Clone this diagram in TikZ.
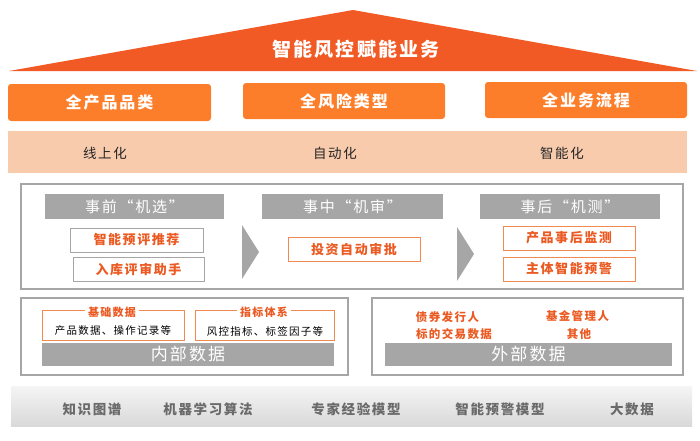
\documentclass[tikz,border=0pt]{standalone}
\usepackage{fontspec}
\setmainfont[LetterSpace=12]{Noto Sans CJK SC}
\definecolor{triorange}{HTML}{F15A24}
\definecolor{boxorange}{HTML}{FD7E2A}
\definecolor{peach}{HTML}{F8CBAD}
\definecolor{midgray}{HTML}{A6A6A6}
\definecolor{redtext}{HTML}{EB5A22}
\definecolor{lineorange}{HTML}{F08A50}
\definecolor{btmtext}{HTML}{6A6A6A}
\tikzset{
  topbox/.style={fill=boxorange, rounded corners=3pt, text=white, font=\fontsize{16}{18}\selectfont\bfseries, inner sep=0pt},
  bandtext/.style={text=black!85, font=\fontsize{13.5}{16}\selectfont},
  grayhead/.style={fill=midgray, text=white, font=\fontsize{15}{18}\selectfont, minimum height=25pt, inner sep=0pt},
  itembox/.style={draw=lineorange, line width=0.9pt, fill=white, text=redtext, font=\fontsize{13}{15}\selectfont\bfseries, minimum height=24pt, minimum width=132pt, inner sep=0pt},
  itemgray/.style={itembox, draw=midgray},
  outerbox/.style={draw=midgray, line width=1.2pt},
  chev/.style={fill=midgray},
  subtitle/.style={fill=white, text=redtext, font=\fontsize{11}{13}\selectfont\bfseries, inner sep=3pt},
  subtext/.style={text=black, font=\fontsize{10.5}{12}\selectfont, inner sep=0pt},
  extext/.style={text=redtext, font=\fontsize{11.5}{13}\selectfont\bfseries, inner sep=0pt},
  databar/.style={fill=midgray, text=white, font=\fontsize{17}{19}\selectfont, minimum height=23pt, inner sep=0pt},
  btmlabel/.style={text=btmtext, font=\fontsize{13.5}{16}\selectfont\bfseries},
}
\begin{document}
\begin{tikzpicture}[x=1pt,y=-1pt]
\useasboundingbox (0,0) rectangle (700,440);
% roof
\fill[triorange] (9,71) -- (353,10) -- (697,71) -- cycle;
\node[text=white, font=\fontsize{19}{22}\selectfont\bfseries] (roof) at (356,49) {智能风控赋能业务};
% orange boxes
\node[topbox, minimum width=203pt, minimum height=37pt] (b1) at (109.5,102.5) {全产品品类};
\node[topbox, minimum width=202pt, minimum height=36pt] (b2) at (344,101) {全风险类型};
\node[topbox, minimum width=202pt, minimum height=36pt] (b3) at (586,100) {全业务流程};
% peach band
\node[fill=peach, minimum width=679pt, minimum height=42pt, inner sep=0pt] (band) at (347.5,152) {};
\node[bandtext] (t1) at (105,153) {线上化};
\node[bandtext] (t2) at (335,153) {自动化};
\node[bandtext] (t3) at (562,153) {智能化};
% process box
\draw[outerbox] (21,184) rectangle (683,289);
\node[grayhead, minimum width=179pt] (h1) at (134.5,206.5) {事前“机选”};
\node[grayhead, minimum width=181pt] (h2) at (352.5,206.5) {事中“机审”};
\node[grayhead, minimum width=180pt] (h3) at (570,206.5) {事后“机测”};
\node[itemgray, minimum width=133pt] (a1) at (136.5,240) {智能预评推荐};
\node[itemgray, minimum width=131pt] (a2) at (138.5,269) {入库评审助手};
\node[itembox] (m1) at (354,249) {投资自动审批};
\node[itembox] (c1) at (569,238) {产品事后监测};
\node[itembox] (c2) at (569,269) {主体智能预警};
\fill[chev] (242,225) -- (259,252) -- (242,279) -- cycle;
\fill[chev] (457,227) -- (474,254) -- (457,281) -- cycle;
% internal data
\draw[outerbox] (21,298) rectangle (348,375);
\draw[draw=lineorange, line width=0.9pt] (42,310) rectangle (184,340);
\draw[draw=lineorange, line width=0.9pt] (195,310) rectangle (334,340);
\node[subtitle] (s1) at (112,312) {基础数据};
\node[subtext] (s1t) at (113,331) {产品数据、操作记录等};
\node[subtitle] (s2) at (264,312) {指标体系};
\node[subtext] (s2t) at (265,331) {风控指标、标签因子等};
\node[databar, minimum width=292pt] (inner) at (188,354.5) {内部数据};
% external data
\draw[outerbox] (372,298) rectangle (683,375);
\node[extext] (e1) at (447.5,317) {债券发行人};
\node[extext] (e2) at (454,334) {标的交易数据};
\node[extext] (e3) at (577.5,316) {基金管理人};
\node[extext] (e4) at (579,334) {其他};
\node[databar, minimum width=287pt] (outer) at (528.5,354.5) {外部数据};
% bottom band
\shade[top color=white!96!black, bottom color=black!15] (11,386) rectangle (692,426);
\node[btmlabel] (k1) at (92,409) {知识图谱};
\node[btmlabel] (k2) at (208,409) {机器学习算法};
\node[btmlabel] (k3) at (356,409) {专家经验模型};
\node[btmlabel] (k4) at (500,409) {智能预警模型};
\node[btmlabel] (k5) at (632,409) {大数据};
\end{tikzpicture}
\end{document}
